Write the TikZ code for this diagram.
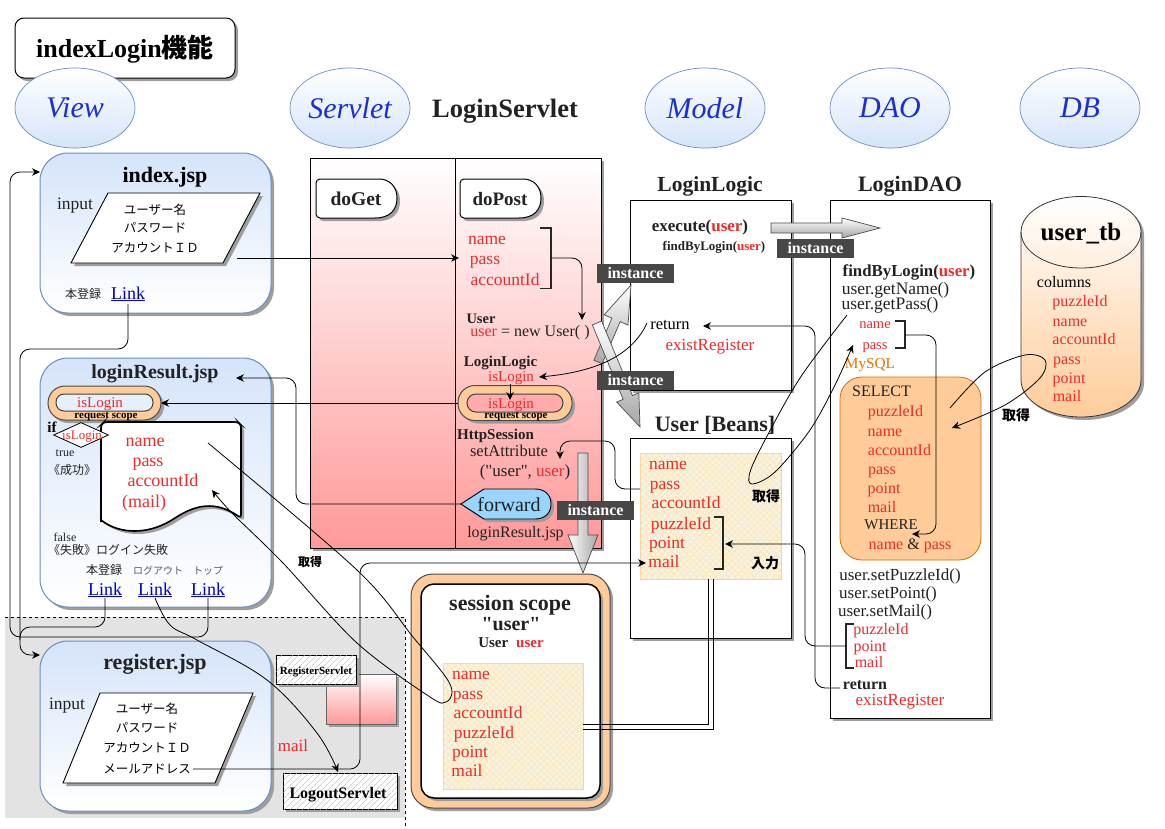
\documentclass[tikz,border=0pt]{standalone}
\usepackage{fontspec}
\defaultfontfeatures[\rmfamily]{}
\setmainfont{Liberation Serif}
\newfontfamily\jp{Noto Sans CJK JP}
\usetikzlibrary{shapes.geometric,shadows,patterns.meta,arrows.meta,calc}
\definecolor{cred}{HTML}{EE2B2B}
\definecolor{cblue}{HTML}{1A2FD8}
\definecolor{clink}{HTML}{0000CC}
\definecolor{corange}{HTML}{FFCC99}
\definecolor{cjsp}{HTML}{D5E4FA}
\definecolor{cjspb}{HTML}{6C8EBF}
\definecolor{cbeige}{HTML}{FFF2CC}
\definecolor{ctxt}{HTML}{222222}
\tikzset{
 shd/.style={drop shadow={shadow xshift=3pt,shadow yshift=-3pt,fill=black!38,opacity=1}},
 fs/.style={font=\fontsize{#1}{#1}\selectfont},
 txt/.style={inner sep=0pt,outer sep=0pt},
 boxn/.style={inner sep=0pt,outer sep=0pt,shape=rectangle},
 jsp/.style={boxn,rounded corners=28pt,top color=cjsp,bottom color=white,draw=cjspb,line width=1pt,shd},
 layer/.style={shape=ellipse,inner sep=0pt,outer sep=0pt,minimum width=120pt,minimum height=80pt,top color=white,bottom color=cjsp,draw=cjspb,line width=.7pt},
 plain/.style={boxn,draw=black,line width=1pt,fill=white,shd},
 para/.style={draw=black,line width=.9pt,fill=white,shd},
 beige/.style={boxn,draw=cbeige!70!orange,line width=.8pt,
   postaction={pattern={Lines[angle=45,distance=4.5pt,line width=.5pt]},pattern color=black!10},
   postaction={pattern={Lines[angle=-45,distance=4.5pt,line width=.5pt]},pattern color=black!10}},
 hatchbox/.style={boxn,draw=black,line width=.9pt,fill=white,shd,
   postaction={pattern={Lines[angle=45,distance=4pt,line width=.6pt]},pattern color=black!30}},
 inst/.style={boxn,fill=black!72,text=white,minimum width=77pt,minimum height=19pt,
   font=\fontsize{16}{16}\selectfont\bfseries},
 conn/.style={draw=black,line width=.8pt,rounded corners=10pt},
 arr/.style={conn,-{Stealth[length=8pt,width=7.5pt]}},
 brk/.style={draw=black!85,line width=1.9pt},
 blk/.style={draw=black!70,line width=.7pt,top color=white,bottom color=black!35},
 blkh/.style={draw=black!70,line width=.7pt,left color=white,right color=black!35},
}
\newcommand{\tx}[5]{\node[txt,fs=#3,text=#4,yshift={-0.1*#3 pt}] (#1) at (#2) {\vphantom{Apg}#5};}
\newcommand{\blockarrow}[6]{%
 \path ($(#2)!#5!(#1)$) coordinate (bah);
 \path[#6] ($(#1)!#3!90:(#2)$) -- ($(bah)!#3!90:(#2)$) -- ($(bah)!#4!90:(#2)$) -- (#2)
   -- ($(bah)!#4!-90:(#2)$) -- ($(bah)!#3!-90:(#2)$) -- ($(#1)!#3!-90:(#2)$) -- cycle;}
\begin{document}
\begin{tikzpicture}[x=1pt,y=-1pt]
\useasboundingbox (0,0) rectangle (1165,828);
\fill[white] (0,0) rectangle (1165,828);
% gray zone
\fill[black!11] (5,617) rectangle (405,818);
\draw[black,dashed,line width=.7pt] (5,617) -- (405,617) -- (405,828);
% title
\node[plain,rounded corners=9pt,minimum width=220pt,minimum height=60pt] (title) at (125,48) {};
\node[txt,fs=26] (titlet) at (125,49) {\bfseries indexLogin{\jp 機能}};
% layer ellipses
\node[layer] (lview) at (75,108) {};
\node[layer] (lserv) at (350,108) {};
\node[layer] (lmodel) at (705,108) {};
\node[layer] (ldao) at (890,108) {};
\node[layer] (ldb) at (1080,108) {};
\tx{tview}{75,108}{30}{cblue}{\itshape View}
\tx{tserv}{350,108}{30}{cblue}{\itshape Servlet}
\tx{tmodel}{705,108}{30}{cblue}{\itshape Model}
\tx{tdao}{890,108}{30}{cblue}{\itshape DAO}
\tx{tdb}{1080,108}{30}{cblue}{\itshape DB}
\tx{tls}{505,109}{26.5}{ctxt}{\bfseries LoginServlet}

% servlet box
\node[boxn,top color=white,bottom color=red!40,draw=black,line width=.9pt,shd,minimum width=291pt,minimum height=390pt] (servlet) at (455.5,353) {};
\draw[black,line width=.9pt] (455,158) -- (455,548);
\path[draw=black,line width=1pt,fill=white,shd,rounded corners=4pt] (316,179) -- (375,179) {[rounded corners=0pt] .. controls (390,179) and (397,187) .. (397,198) .. controls (397,210) and (390,218) .. (375,218)} -- (316,218) -- cycle;
\path[draw=black,line width=1pt,fill=white,shd,rounded corners=4pt] (460,179) -- (519,179) {[rounded corners=0pt] .. controls (534,179) and (541,187) .. (541,198) .. controls (541,210) and (534,218) .. (519,218)} -- (460,218) -- cycle;
\tx{tget}{356,199}{19.5}{ctxt}{\bfseries doGet}
\tx{tpost}{500,199}{19}{ctxt}{\bfseries doPost}
\tx{sname}{487,239}{17.5}{cred}{name}
\tx{spass}{485,259}{17.5}{cred}{pass}
\tx{sacc}{505,280}{17.5}{cred}{accountId}
\draw[brk] (540,228) -- (551,228) -- (551,288.5) -- (540,288.5);
\tx{suser}{481,319}{14.5}{ctxt}{\bfseries User}
\tx{snew}{530,331}{16}{ctxt}{{\color{cred}user} = new User( )}
\tx{slogic}{500.5,361}{15}{ctxt}{\bfseries LoginLogic}
\tx{sis}{511,377}{15}{cred}{isLogin}
\node[boxn,rounded corners=17pt,minimum width=114pt,minimum height=35pt,fill=corange,draw=black!70,line width=1pt,shd] (spill) at (515,403) {};
\node[boxn,rounded corners=9pt,minimum width=96pt,minimum height=18pt,fill=red!33,draw=black!75,line width=1pt] (spilli) at (515,403) {};
\tx{sis2}{511,404}{15}{cred}{isLogin}
\tx{srs}{516,415}{11}{black}{\bfseries request scope}
\tx{shttp}{495.5,434}{15}{ctxt}{\bfseries HttpSession}
\tx{sset}{509,451}{16.5}{ctxt}{setAttribute}
\tx{sarg}{525,471}{17}{ctxt}{("user", {\color{cred}user})}
\path[draw=black,line width=.9pt,fill=blue!40!cyan!40,shd] (461,504) -- (484,489) -- (535,489) .. controls (546,489) and (551,496) .. (551,504) .. controls (551,512) and (546,519) .. (535,519) -- (484,519) -- cycle;
\coordinate (fwd) at (461,504);
\tx{tfwd}{509,505}{20}{ctxt}{forward}
\tx{sres}{515.5,532}{16}{ctxt}{loginResult.jsp}

% index.jsp
\node[jsp,minimum width=231pt,minimum height=160pt] (index) at (155.5,233) {};
\tx{iti}{165,175}{22}{black}{\bfseries index.jsp}
\tx{iin}{75,204}{17.5}{ctxt}{input}
\path[para] (108,193) -- (260,193) -- (223,263) -- (71,263) -- cycle;
\tx{i1}{155,209}{12.5}{black}{\jp ユーザー名}
\tx{i2}{155,228}{12.5}{black}{\jp パスワード}
\tx{i3}{155,248}{12.5}{black}{\jp アカウントＩＤ}
\tx{i4}{83,294}{12}{ctxt}{\jp 本登録}
\tx{ilink}{128,293}{18}{clink}{\underline{Link}}

% loginResult.jsp
\node[jsp,minimum width=231pt,minimum height=249pt] (result) at (155.5,482.5) {};
\tx{rti}{155,372}{20}{ctxt}{\bfseries loginResult.jsp}
\node[boxn,rounded corners=17pt,minimum width=113pt,minimum height=34pt,fill=corange,draw=black!70,line width=1pt,shd] (rpill) at (104.5,403) {};
\node[boxn,rounded corners=8pt,minimum width=97pt,minimum height=17pt,fill=cjsp!60,draw=black!75,line width=1pt] (rpilli) at (104.5,402.5) {};
\tx{ris}{100,403}{15}{cred}{isLogin}
\tx{rrs}{106,415}{11}{black}{\bfseries request scope}
\path[draw=black,line width=1.6pt,fill=white,shd,rounded corners=3pt] (101,522) -- (101,425) -- (104,422) -- (238,422) -- (241,425) -- (241,518) {[rounded corners=0pt] .. controls (215,500) and (195,505) .. (175,518) .. controls (150,535) and (120,535) .. (101,520)};
\node[shape=diamond,draw=black,line width=.8pt,fill=white,inner sep=0pt,minimum width=55pt,minimum height=25pt] (rif) at (81,435) {};
\tx{rift}{82,435}{13}{cred}{isLogin}
\tx{riflbl}{52,427}{15}{black}{\bfseries if}
\tx{rname}{145,441}{18}{cred}{name}
\tx{rpass}{148,461}{18}{cred}{pass}
\tx{racc}{163,480}{18}{cred}{accountId}
\tx{rmail}{144,501}{18}{cred}{(mail)}
\tx{rtrue}{65,453}{12}{ctxt}{true}
\tx{rok}{72,470}{12}{ctxt}{\jp 《成功》}
\tx{rfalse}{65,537}{12}{ctxt}{false}
\tx{rng}{108,550}{12}{ctxt}{\jp 《失敗》ログイン失敗}
\tx{r1}{104,570}{12}{ctxt}{\jp 本登録}
\tx{r2}{158,570}{10}{black!65}{\jp ログアウト}
\tx{r3}{208,570}{10}{black!65}{\jp トップ}
\tx{rl1}{105,589}{18}{clink}{\underline{Link}}
\tx{rl2}{155,589}{18}{clink}{\underline{Link}}
\tx{rl3}{208,589}{18}{clink}{\underline{Link}}

% register.jsp
\node[jsp,minimum width=231pt,minimum height=170pt] (register) at (155.5,726) {};
\tx{gti}{155,662}{22}{ctxt}{\bfseries register.jsp}
\tx{gin}{67,704}{17.5}{ctxt}{input}
\path[para] (100,693) -- (253,693) -- (215,783) -- (63,783) -- cycle;
\tx{g1}{147,708}{12.5}{black}{\jp ユーザー名}
\tx{g2}{147,728}{12.5}{black}{\jp パスワード}
\tx{g3}{147,748}{12.5}{black}{\jp アカウントＩＤ}
\tx{g4}{147,769}{12.5}{black}{\jp メールアドレス}
\tx{gmail}{293,746}{17}{cred}{mail}
\node[boxn,top color=white,bottom color=red!40,draw=black!60,line width=1pt,shd,minimum width=70pt,minimum height=50pt] (regpink) at (361,699) {};
\node[hatchbox,minimum width=80pt,minimum height=29pt] (regsv) at (316,669.5) {};
\tx{regt}{316,671}{11}{black}{\bfseries RegisterServlet}
\node[hatchbox,minimum width=114pt,minimum height=36pt] (logsv) at (340,791) {};
\tx{logt}{338,793}{16}{black}{\bfseries LogoutServlet}

% LoginLogic
\tx{lti}{710,184}{21.5}{ctxt}{\bfseries LoginLogic}
\node[plain,minimum width=161pt,minimum height=190pt] (logic) at (710.5,295) {};
\tx{lex}{700,226}{17}{ctxt}{\bfseries execute({\color{cred}user})}
\tx{lfi}{714,246}{13}{ctxt}{\bfseries findByLogin({\color{cred}user})}
\tx{lret}{670,324}{16.5}{black}{return}
\tx{lexi}{710,345}{17}{cred}{existRegister}

% User Beans
\tx{uti}{715,424}{22}{ctxt}{\bfseries User [Beans]}
\node[plain,minimum width=161pt,minimum height=200pt] (beans) at (710.5,538) {};
\node[beige,fill=cbeige,minimum width=141pt,minimum height=126pt] (bfield) at (710.5,516) {};
\tx{u1}{668,464}{17.5}{cred}{name}
\tx{u2}{665,484}{17.5}{cred}{pass}
\tx{u3}{686,503}{17.5}{cred}{accountId}
\tx{u4}{681,524}{17.5}{cred}{puzzleId}
\tx{u5}{667,543}{17.5}{cred}{point}
\tx{u6}{664,562}{17.5}{cred}{mail}
\draw[brk] (714,517) -- (723,517) -- (723,569) -- (714,569);
\tx{u7}{766,496}{14}{black}{\jp\bfseries 取得}
\tx{u8}{765,563}{14}{black}{\jp\bfseries 入力}

% Session scope
\node[boxn,rounded corners=22pt,minimum width=199pt,minimum height=234pt,fill=corange,draw=black!70,line width=1pt,shd] (sess) at (510.5,691) {};
\node[boxn,rounded corners=13pt,minimum width=179pt,minimum height=214pt,fill=white,draw=black,line width=1.5pt,shd] (sessi) at (510.5,691) {};
\tx{s1}{510,603}{22}{ctxt}{\bfseries session scope}
\tx{s2}{511,624}{20}{ctxt}{\bfseries "user"}
\tx{s3}{511,643}{15}{ctxt}{\bfseries User\hspace{8pt}{\color{cred}user}}
\node[beige,fill=cbeige,minimum width=140pt,minimum height=126pt] (sfield) at (513,726) {};
\tx{s4}{471,674}{17.5}{cred}{name}
\tx{s5}{468,694}{17.5}{cred}{pass}
\tx{s6}{488,713}{17.5}{cred}{accountId}
\tx{s7}{484,733}{17.5}{cred}{puzzleId}
\tx{s8}{470,752}{17.5}{cred}{point}
\tx{s9}{467,771}{17.5}{cred}{mail}

% LoginDAO
\tx{dti}{910,184}{22}{ctxt}{\bfseries LoginDAO}
\node[plain,minimum width=160pt,minimum height=518pt] (dao) at (910,459) {};
\tx{d1}{909,271}{16.8}{ctxt}{\bfseries findByLogin({\color{cred}user})}
\tx{d2}{895.5,289}{17.5}{ctxt}{user.getName()}
\tx{d3}{890,304}{17.5}{ctxt}{user.getPass()}
\tx{d4}{875,324}{14.5}{cred}{name}
\tx{d5}{875,345}{14.5}{cred}{pass}
\draw[brk] (895,321) -- (905,321) -- (905,348) -- (895,348);
\tx{d6}{870,364}{15.3}{orange!90!black}{MySQL}
\node[boxn,rounded corners=22pt,minimum width=141pt,minimum height=183pt,fill=corange,draw=orange!85!black,line width=.8pt] (sql) at (910.5,468.5) {};
\tx{q0}{881.5,391}{16}{ctxt}{SELECT}
\tx{q1}{895.5,411}{16}{cred}{puzzleId}
\tx{q2}{885,431}{16}{cred}{name}
\tx{q3}{899.5,450}{16}{cred}{accountId}
\tx{q4}{882,469}{16}{cred}{pass}
\tx{q5}{884,488}{16}{cred}{point}
\tx{q6}{882,507}{16}{cred}{mail}
\tx{q7}{891,525}{15}{ctxt}{WHERE}
\tx{q8}{910,544}{16}{cred}{name {\color{ctxt}\&} pass}
\tx{d7}{900,575}{17}{ctxt}{user.setPuzzleId()}
\tx{d8}{888,593}{17}{ctxt}{user.setPoint()}
\tx{d9}{885,611}{17}{ctxt}{user.setMail()}
\draw[brk] (854,624) -- (846,624) -- (846,668) -- (854,668);
\tx{d10}{881,629}{16}{cred}{puzzleId}
\tx{d11}{870,646}{16}{cred}{point}
\tx{d12}{869,662}{16}{cred}{mail}
\tx{d13}{865,684}{16}{ctxt}{\bfseries return}
\tx{d14}{900,700}{17}{cred}{existRegister}

% DB cylinder
\path[draw=black!80,line width=.8pt,top color=white,bottom color=corange,shd] (1021,232) arc[x radius=60,y radius=-35.5,start angle=180,end angle=0] -- (1141,380) arc[x radius=60,y radius=-37,start angle=0,end angle=-180] -- cycle;
\draw[black!80,line width=.8pt] (1021,232) arc[x radius=60,y radius=-36,start angle=180,end angle=360];
\tx{dbt}{1081,232}{25}{black}{\bfseries user\_tb}
\tx{db0}{1064,282}{16}{black}{columns}
\tx{db1}{1080,301}{16}{cred}{puzzleId}
\tx{db2}{1070,321}{16}{cred}{name}
\tx{db3}{1084,339}{16}{cred}{accountId}
\tx{db4}{1067,359}{16}{cred}{pass}
\tx{db5}{1069,378}{16}{cred}{point}
\tx{db6}{1067,396}{16}{cred}{mail}
\tx{db7}{1016,415}{14}{black}{\jp\bfseries 取得}
\tx{srv7}{310,561}{12}{black}{\jp\bfseries 取得}

% block arrows
\coordinate (b1a) at (771,228); \coordinate (b1b) at (880,228);
\blockarrow{b1a}{b1b}{5pt}{10pt}{38pt}{blk}
\coordinate (b2a) at (598,362); \coordinate (b2b) at (631,285);
\blockarrow{b2a}{b2b}{4.5pt}{13pt}{38pt}{blk}
\coordinate (b3a) at (597,323); \coordinate (b3b) at (640,427);
\blockarrow{b3a}{b3b}{5pt}{12pt}{32pt}{blk}
\coordinate (b4a) at (583,453); \coordinate (b4b) at (583,573);
\blockarrow{b4a}{b4b}{5pt}{15pt}{38pt}{blkh}
\node[inst] (inst1) at (635.5,273.5) {instance};
\node[inst] (inst2) at (635.5,380.5) {instance};
\node[inst] (inst3) at (595.5,510.5) {instance};
\node[inst] (inst4) at (815.5,248.5) {instance};

% connector end points
\coordinate (c1a) at (237,258); \coordinate (c1b) at (459,258);
\coordinate (c2a) at (551,258); \coordinate (c2b) at (582,320);
\coordinate (c3a) at (647,323); \coordinate (c3b) at (539,377);
\coordinate (c4a) at (510,384); \coordinate (c4b) at (510,400);
\coordinate (c5a) at (640,489); \coordinate (c5b) at (560,459);
\coordinate (c6a) at (193,769); \coordinate (c6b) at (646,563);
\coordinate (c7a) at (905,335); \coordinate (c7b) at (912,534);
\coordinate (c8a) at (846,646); \coordinate (c8b) at (725,544);
\coordinate (c9a) at (840,688); \coordinate (c9b) at (703,326);
\coordinate (c10a) at (128,304); \coordinate (c10b) at (40,655);
\coordinate (c11a) at (105,598); \coordinate (c11b) at (20,640);
\coordinate (c12a) at (208,598); \coordinate (c12b) at (40,172);
\coordinate (c13a) at (155,598); \coordinate (c13b) at (338,772);
\coordinate (c14a) at (208,443); \coordinate (c14b) at (212,490);
\coordinate (c15a) at (847,315); \coordinate (c15b) at (853,345);
\coordinate (c16a) at (950,408); \coordinate (c16b) at (952,428);
\coordinate (c17b) at (236,378);

% connectors
\draw[arr] (c1a) -- (c1b);
\draw[arr] (c2a) -- (582,258) -- (c2b);
\draw[arr,rounded corners=0pt] (c3a) .. controls (632,356) and (595,372) .. (c3b);
\draw[arr,rounded corners=0pt] (c4a) -- (c4b);
\draw[arr] (c5a) -- (615,489) -- (615,441) -- (560,441) -- (c5b);
\draw[arr] (c6a) -- (360,769) -- (360,563) -- (c6b);
\draw[arr] (c7a) -- (936,335) -- (936,534) -- (c7b);
\draw[arr] (c8a) -- (805,646) -- (805,544) -- (c8b);
\draw[arr] (c9a) -- (815,688) -- (815,326) -- (c9b);
\draw[arr] (c10a) -- (128,349) -- (20,349) -- (20,655) -- (c10b);
\draw[conn] (c11a) -- (105,627) -- (20,627) -- (c11b);
\draw[arr] (c12a) -- (208,637) -- (10,637) -- (10,172) -- (c12b);
\draw[arr] (fwd) -- (296,504) -- (296,378) -- (c17b);
\draw[arr,rounded corners=0pt] (spill.west) -- (rpill.east);
\draw[arr,rounded corners=0pt] plot[smooth,tension=.6] coordinates {(c13a) (170,625) (197,640) (267,680) (317,733) (c13b)};
\draw[arr,rounded corners=0pt] plot[smooth,tension=.55] coordinates {(c14a) (357,570) (413,637) (445,676) (452,692) (446,702) (430,697) (357,643) (283,563) (232,513) (c14b)};
\draw[arr,rounded corners=0pt] plot[smooth,tension=.55] coordinates {(c15a) (800,378) (765,440) (750,472) (752,484) (775,472) (810,430) (835,385) (c15b)};
\draw[arr,rounded corners=0pt] plot[smooth,tension=.55] coordinates {(c16a) (985,372) (1025,355) (1045,360) (1040,378) (1005,405) (c16b)};
% double line
\draw[black,line width=.8pt] (708,579) -- (708,724) -- (583,724);
\draw[black,line width=.8pt] (713,579) -- (713,729) -- (583,729);
\end{tikzpicture}
\end{document}
